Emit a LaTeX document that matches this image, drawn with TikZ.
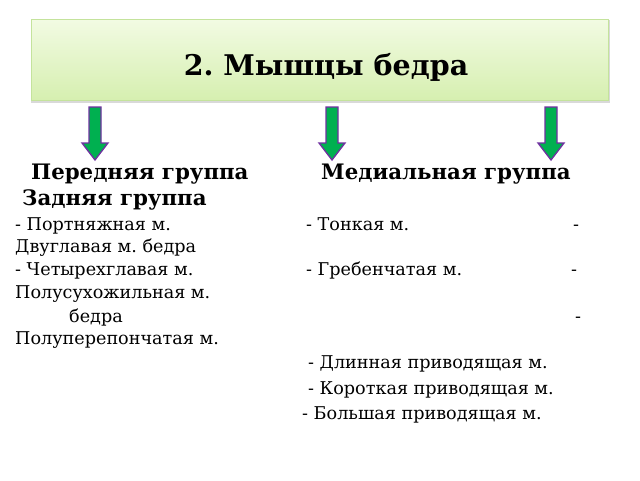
\documentclass[tikz,border=0pt]{standalone}
\usepackage{fontspec}
\setmainfont{DejaVu Serif}
\frenchspacing
\begin{document}
\begin{tikzpicture}[x=1pt,y=-1pt,
  txt/.style={anchor=base west,inner sep=0pt,font=\fontsize{17.6}{20}\selectfont},
  hdr/.style={anchor=base west,inner sep=0pt,font=\fontsize{21.3}{24}\selectfont\bfseries},
  downarrow/.style={fill=arrowgreen,draw=arrowpurple,line width=1.3pt,line join=miter}]
\definecolor{arrowgreen}{HTML}{00B050}
\definecolor{arrowpurple}{HTML}{7030A0}
\definecolor{boxtop}{HTML}{F2FBE3}
\definecolor{boxbot}{HTML}{D6EFB0}
\definecolor{boxedge}{HTML}{C4E39C}
\useasboundingbox (0,0) rectangle (640,480);
\fill[white] (0,0) rectangle (640,480);
% shadow
\fill[black!30] (32,21) rectangle (609,102);
\fill[black!15] (31,20) rectangle (610,103);
% title box
\shade[top color=boxtop,bottom color=boxbot] (31,19) rectangle (608,100);
\draw[boxedge,line width=0.8pt] (31,19) rectangle (608,100);
\node[anchor=base,inner sep=0pt,font=\fontsize{28.5}{32}\selectfont\bfseries] (title) at (326,75) {2. Мышцы бедра};
% arrows
\foreach \cx/\nm in {95/a1,332/a2,551/a3}{
  \draw[downarrow] (\cx-6,107) -- (\cx+6,107) -- (\cx+6,143) -- (\cx+13,143) -- (\cx,160) -- (\cx-13,143) -- (\cx-6,143) -- cycle;
  \coordinate (\nm) at (\cx,160);
}
% headers
\node[hdr] (h1) at (31,179) {Передняя группа};
\node[hdr] (h2) at (321,179) {Медиальная группа};
\node[hdr] (h3) at (22,205) {Задняя группа};
% lines
\node[txt] (l1a) at (15,230) {- Портняжная м.};
\node[txt] (l1b) at (306,230) {- Тонкая м.};
\node[txt] (l1c) at (573,230) {-};
\node[txt] (l2) at (15,252) {Двуглавая м. бедра};
\node[txt] (l3a) at (15,275) {- Четырехглавая м.};
\node[txt] (l3b) at (306,275) {- Гребенчатая м.};
\node[txt] (l3c) at (571,275) {-};
\node[txt] (l4) at (15,298) {Полусухожильная м.};
\node[txt] (l5a) at (69,322) {бедра};
\node[txt] (l5c) at (575,322) {-};
\node[txt] (l6) at (15,344) {Полуперепончатая м.};
\node[txt] (l7) at (308,368) {- Длинная приводящая м.};
\node[txt] (l8) at (308,394) {- Короткая приводящая м.};
\node[txt] (l9) at (302,419) {- Большая приводящая м.};
\end{tikzpicture}
\end{document}
